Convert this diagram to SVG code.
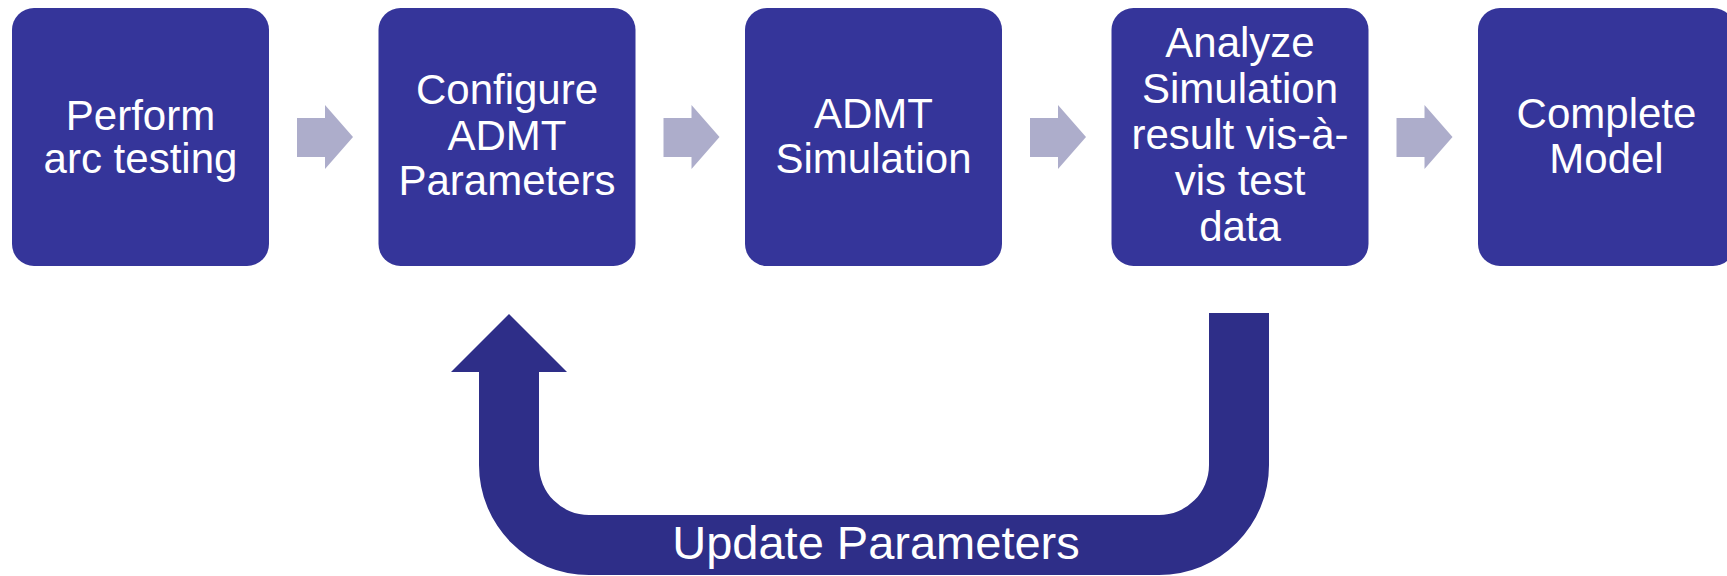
<svg xmlns="http://www.w3.org/2000/svg" width="1727" height="576" viewBox="0 0 1727 576">
<style>
.box{fill:#35359A;}
.t{font-family:"Liberation Sans",Arial,sans-serif;font-size:42px;fill:#ffffff;text-anchor:middle;}
.arr{fill:#ADADCB;}
.uturn{fill:#2E2E88;}
.ut{font-family:"Liberation Sans",Arial,sans-serif;font-size:47px;fill:#ffffff;text-anchor:middle;}
</style>
<rect width="1727" height="576" fill="#ffffff"/>
<g id="connectors">
<path class="arr" d="M297,118 H325 V105 L353,137 L325,169 V157 H297 Z"/>
<path class="arr" d="M663.5,118 H691.5 V105 L719.5,137 L691.5,169 V157 H663.5 Z"/>
<path class="arr" d="M1030,118 H1058 V105 L1086,137 L1058,169 V157 H1030 Z"/>
<path class="arr" d="M1396.5,118 H1424.5 V105 L1452.5,137 L1424.5,169 V157 H1396.5 Z"/>
<g id="update-loop">
<path class="uturn" d="M1209,313 H1269 V465 A110,110 0 0 1 1159,575 H589 A110,110 0 0 1 479,465 V372 H451 L509,314 L567,372 H539 V465 A50,50 0 0 0 589,515 H1159 A50,50 0 0 0 1209,465 Z"/>
<text class="ut" x="876" y="559">Update Parameters</text>
</g>
</g>
<g id="node1">
<rect class="box" x="12" y="8" width="257" height="258" rx="22"/>
<text class="t" x="140.5" y="130">Perform</text>
<text class="t" x="140.5" y="173">arc testing</text>
</g>
<g id="node2">
<rect class="box" x="378.5" y="8" width="257" height="258" rx="22"/>
<text class="t" x="507" y="104">Configure</text>
<text class="t" x="507" y="150">ADMT</text>
<text class="t" x="507" y="195">Parameters</text>
</g>
<g id="node3">
<rect class="box" x="745" y="8" width="257" height="258" rx="22"/>
<text class="t" x="873.5" y="128">ADMT</text>
<text class="t" x="873.5" y="173">Simulation</text>
</g>
<g id="node4">
<rect class="box" x="1111.5" y="8" width="257" height="258" rx="22"/>
<text class="t" x="1240" y="57">Analyze</text>
<text class="t" x="1240" y="103">Simulation</text>
<text class="t" x="1240" y="149">result vis-à-</text>
<text class="t" x="1240" y="195">vis test</text>
<text class="t" x="1240" y="241">data</text>
</g>
<g id="node5">
<rect class="box" x="1478" y="8" width="257" height="258" rx="22"/>
<text class="t" x="1606.5" y="128">Complete</text>
<text class="t" x="1606.5" y="173">Model</text>
</g>
</svg>
